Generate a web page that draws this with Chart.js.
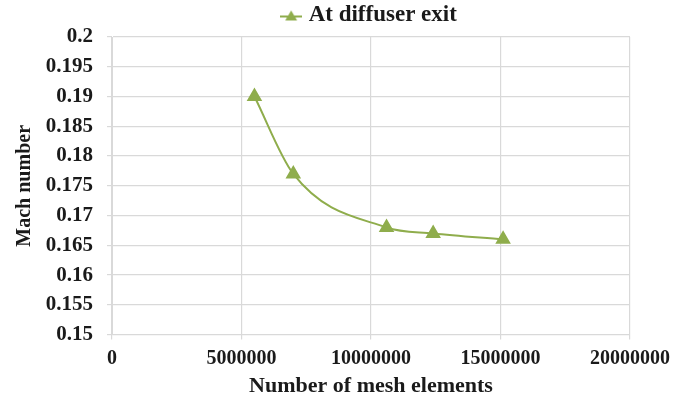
<!DOCTYPE html>
<html>
<head>
<meta charset="utf-8">
<script src="https://cdn.jsdelivr.net/npm/chart.js@4.4.1/dist/chart.umd.min.js"></script>
<style>
  html, body { margin: 0; padding: 0; background: #ffffff; }
  #wrap { width: 685px; height: 400px; }
</style>
</head>
<body>
<div id="wrap"><canvas id="chart" width="685" height="400"></canvas></div>
<script>
// Mesh independence study: Mach number at the diffuser exit
const meshElements = [5500000, 7000000, 10600000, 12400000, 15100000];
const machNumber = [0.19, 0.177, 0.168, 0.167, 0.166];
const seriesLabel = 'At diffuser exit';
const xTitle = 'Number of mesh elements';
const yTitle = 'Mach number';

const green = '#8fad4c';
const gridColor = '#d9d9d9';
const textColor = '#1a1a1a';
const serif = '"Liberation Serif", "Times New Roman", serif';

const points = meshElements.map((x, i) => ({ x: x, y: machNumber[i] }));

// Legend swatch: a short line segment with a triangle marker on it
function legendSwatch() {
  const c = document.createElement('canvas');
  c.width = 22;
  c.height = 12;
  const g = c.getContext('2d');
  g.strokeStyle = green;
  g.lineWidth = 2;
  g.beginPath();
  g.moveTo(0, 7);
  g.lineTo(22, 7);
  g.stroke();
  g.fillStyle = green;
  g.beginPath();
  g.moveTo(11, 1);
  g.lineTo(17, 11);
  g.lineTo(5, 11);
  g.closePath();
  g.fill();
  return c;
}

new Chart(document.getElementById('chart'), {
  type: 'scatter',
  data: {
    datasets: [{
      label: seriesLabel,
      data: points,
      showLine: true,
      borderColor: green,
      backgroundColor: green,
      borderWidth: 2,
      tension: 0.4,
      cubicInterpolationMode: 'monotone',
      pointStyle: 'triangle',
      pointRadius: 7,
      pointHoverRadius: 7
    }]
  },
  options: {
    responsive: false,
    animation: false,
    layout: { padding: { left: 11, right: 55, top: 0, bottom: 0 } },
    plugins: {
      tooltip: { enabled: false },
      legend: {
        position: 'top',
        fullSize: false,
        labels: {
          usePointStyle: true,
          pointStyle: legendSwatch(),
          pointStyleWidth: 12,
          boxHeight: 12,
          padding: 4,
          color: textColor,
          font: { family: serif, size: 23, weight: 'bold' }
        }
      }
    },
    scales: {
      x: {
        type: 'linear',
        min: 0,
        max: 20000000,
        ticks: {
          stepSize: 5000000,
          color: textColor,
          padding: 9,
          maxRotation: 0,
          font: { family: serif, size: 20, weight: 'bold', lineHeight: 1 },
          callback: v => String(v)
        },
        grid: { color: gridColor, lineWidth: 1.2, drawTicks: true, tickLength: 5 },
        border: { color: gridColor },
        title: {
          display: true,
          text: xTitle,
          color: textColor,
          padding: { top: -4, bottom: 0 },
          font: { family: serif, size: 22, weight: 'bold' }
        }
      },
      y: {
        min: 0.15,
        max: 0.2,
        afterFit: scale => { scale.width = 101; },
        ticks: {
          stepSize: 0.005,
          color: textColor,
          padding: 14,
          font: { family: serif, size: 21, weight: 'bold' },
          callback: v => String(Number(v.toFixed(3)))
        },
        grid: { color: gridColor, lineWidth: 1.2, drawTicks: true, tickLength: 5 },
        border: { color: gridColor },
        title: {
          display: true,
          text: yTitle,
          color: textColor,
          padding: { top: 2, bottom: 0 },
          font: { family: serif, size: 20, weight: 'bold' }
        }
      }
    }
  }
});
</script>
</body>
</html>
